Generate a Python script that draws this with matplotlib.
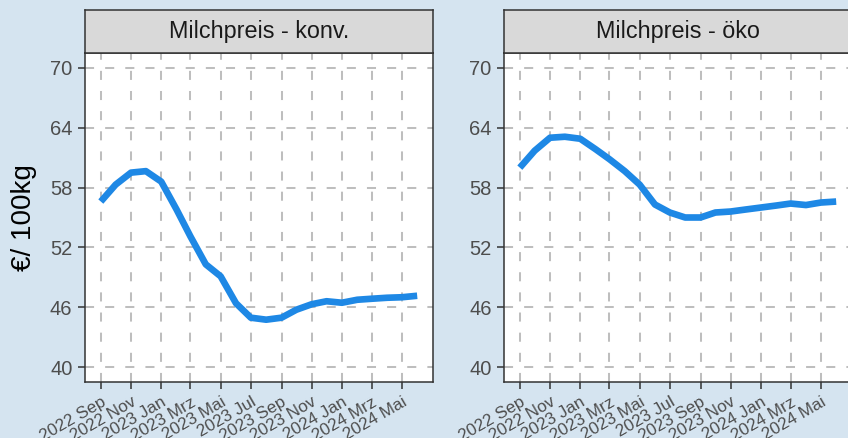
import matplotlib
matplotlib.use("Agg")
import matplotlib.pyplot as plt
import matplotlib.dates as mdates
import matplotlib.transforms as mtransforms
import pandas as pd

# ---- data -------------------------------------------------------------
months = pd.date_range("2022-09-01", "2024-06-01", freq="MS")
konv = [56.6, 58.3, 59.5, 59.65, 58.6, 55.8, 53.1, 50.3, 49.1, 46.4, 44.95,
        44.75, 44.95, 45.75, 46.3, 46.6, 46.45, 46.75, 46.85, 46.95, 47.0, 47.15]
oeko = [60.0, 61.7, 63.0, 63.1, 62.9, 61.85, 60.85, 59.65, 58.3, 56.3, 55.5,
        55.0, 55.0, 55.5, 55.6, 55.8, 56.0, 56.2, 56.4, 56.25, 56.5, 56.6]
panel_titles = ["Milchpreis - konv.", "Milchpreis - öko"]
tick_dates = pd.date_range("2022-09-01", "2024-05-01", freq="2MS")
tick_labels = ["2022 Sep", "2022 Nov", "2023 Jan", "2023 Mrz", "2023 Mai",
               "2023 Jul", "2023 Sep", "2023 Nov", "2024 Jan", "2024 Mrz",
               "2024 Mai"]
y_ticks = [40, 46, 52, 58, 64, 70]
y_label = "€/ 100kg"

# ---- style ------------------------------------------------------------
BG = "#D5E4F0"
LINE = "#1E88E5"
GRID = "#BEBEBE"
DARK = "#333333"
TXT = "#4D4D4D"
plt.rcParams["font.family"] = ["Liberation Sans", "DejaVu Sans"]

W, H = 848, 438
fig = plt.figure(figsize=(W / 100, H / 100), dpi=100, facecolor=BG)

def px_rect(x0, y_top, w, h):
    return [x0 / W, (H - y_top - h) / H, w / W, h / H]

panel_left = [85, 504]
panel_top, panel_w, panel_h = 53, 348, 329
strip_top, strip_h = 10, 43

x_num = mdates.date2num(months)
span = x_num[-1] - x_num[0]
xlim = (x_num[0] - 0.05 * span, x_num[-1] + 0.05 * span)

for i, (series, title) in enumerate(zip([konv, oeko], panel_titles)):
    ax = fig.add_axes(px_rect(panel_left[i], panel_top, panel_w, panel_h))
    ax.set_facecolor("white")
    ax.plot(months, series, color=LINE, lw=4.8, solid_joinstyle="round",
            solid_capstyle="butt", zorder=3)
    ax.set_xlim(xlim)
    ax.set_ylim(38.5, 71.5)
    ax.set_yticks(y_ticks)
    ax.set_yticklabels([str(v) for v in y_ticks])
    ax.set_xticks(mdates.date2num(tick_dates))
    ax.set_xticklabels(tick_labels, rotation=30, ha="right", va="top",
                       rotation_mode="anchor")
    offset = mtransforms.ScaledTranslation(6 / 100, 0, fig.dpi_scale_trans)
    for lab in ax.get_xticklabels():
        lab.set_transform(lab.get_transform() + offset)
    ax.tick_params(axis="both", colors=DARK, length=5, width=1.1,
                   labelcolor=TXT)
    ax.tick_params(axis="y", labelsize=14.5, pad=4)
    ax.tick_params(axis="x", labelsize=12.3, pad=4)
    ax.grid(True, color=GRID, lw=1.45, linestyle=(0, (4.5, 5.5)), zorder=1)
    ax.set_axisbelow(True)
    for sp in ax.spines.values():
        sp.set_color(DARK)
        sp.set_linewidth(1.1)
        sp.set_zorder(4)

    sax = fig.add_axes(px_rect(panel_left[i], strip_top, panel_w, strip_h))
    sax.set_facecolor("#D9D9D9")
    sax.set_xticks([])
    sax.set_yticks([])
    for sp in sax.spines.values():
        sp.set_color(DARK)
        sp.set_linewidth(1.1)
    sax.text(0.5, 0.5, title, ha="center", va="center", fontsize=16.8,
             color="#1A1A1A", transform=sax.transAxes)

fig.text(24 / W, 1 - (panel_top + panel_h / 2) / H, y_label, rotation=90,
         ha="center", va="center", fontsize=20, color="black")

fig.savefig("out.png", dpi=100, facecolor=BG)
